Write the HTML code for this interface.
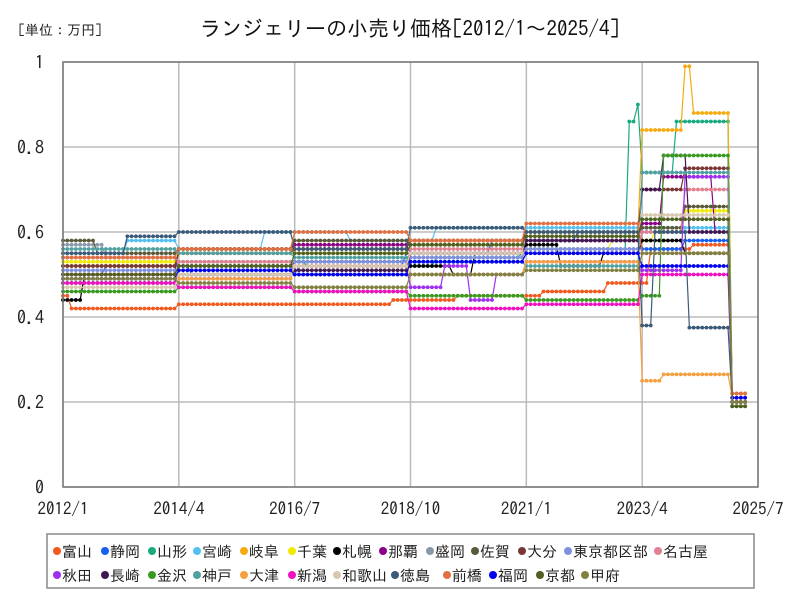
<!DOCTYPE html>
<html><head><meta charset="utf-8"><style>
body{margin:0;background:#fff;font-family:"IPAGothic","Noto Sans CJK JP",sans-serif}
#wrap{position:relative;width:800px;height:600px;overflow:hidden}
svg text{font-family:"IPAGothic","Noto Sans CJK JP",sans-serif}
</style></head><body>
<div id="wrap">
<svg id="svg" width="800" height="600" xmlns="http://www.w3.org/2000/svg">
<text x="18" y="35" font-size="14" fill="#222">[単位：万円]</text>
<text x="410" y="36" font-size="21" text-anchor="middle" fill="#111">ランジェリーの小売り価格[2012/1～2025/4]</text>
<g id="grid"></g><g id="series"></g>
<rect x="63" y="62" width="695" height="425" fill="none" stroke="#777" stroke-width="1.5"/>
<g id="axes"></g>
<rect x="47" y="534" width="707" height="54" fill="#fff" stroke="#888" stroke-width="1.5"/>
<g id="legend"></g>
</svg></div>
<script>
const names=["富山","静岡","山形","宮崎","岐阜","千葉","札幌","那覇","盛岡","佐賀","大分","東京都区部","名古屋","秋田","長崎","金沢","神戸","大津","新潟","和歌山","徳島","前橋","福岡","京都","甲府"];
const colors=["#f05a1e","#1560f0","#1aaa80","#55c0f0","#f5aa10","#f0ea00","#000000","#8b008b","#8899aa","#5a5a3a","#7a3535","#8090e0","#e08090","#a030f0","#401850","#3a9a20","#50a0a0","#f5a040","#f010c0","#d8c8b0","#3a5a78","#e07040","#0000ee","#506020","#808040"];
const yTicks=[0,0.2,0.4,0.6,0.8,1];
const yTickLabels=["0","0.2","0.4","0.6","0.8","1"];
const xTickMonths=[0,27,54,81,108,135,162];
const xTickLabels=["2012/1","2014/4","2016/7","2018/10","2021/1","2023/4","2025/7"];
// series as run-length [value, months], 2012/1..2025/4
const runs=[
[[0.45,2],[0.42,25],[0.43,50],[0.44,15],[0.45,20],[0.46,15],[0.48,10],[0.56,10],[0.57,9],[0.22,4]],
[[0.5,10],[0.52,20],[0.5,25],[0.52,25],[0.55,20],[0.58,20],[0.6,15],[0.56,10],[0.58,11],[0.21,4]],
[[0.52,27],[0.53,30],[0.52,30],[0.54,20],[0.55,25],[0.86,2],[0.9,1],[0.74,8],[0.86,13],[0.2,4]],
[[0.55,15],[0.58,12],[0.56,20],[0.6,20],[0.58,20],[0.61,30],[0.61,39],[0.2,4]],
[[0.52,27],[0.55,27],[0.57,27],[0.58,27],[0.6,27],[0.84,10],[0.99,2],[0.88,9],[0.21,4]],
[[0.53,27],[0.56,27],[0.55,27],[0.57,27],[0.56,20],[0.58,10],[0.6,7],[0.65,11],[0.21,4]],
[[0.44,5],[0.5,22],[0.52,27],[0.53,27],[0.52,10],[0.5,5],[0.55,12],[0.57,8],[0.52,10],[0.55,9],[0.58,10],[0.55,11],[0.2,4]],
[[0.5,27],[0.56,27],[0.57,27],[0.55,27],[0.58,27],[0.62,5],[0.73,12],[0.6,4],[0.2,4]],
[[0.57,10],[0.54,17],[0.52,27],[0.5,27],[0.54,27],[0.56,27],[0.6,21],[0.2,4]],
[[0.58,8],[0.55,19],[0.56,27],[0.58,27],[0.57,27],[0.6,27],[0.61,10],[0.66,11],[0.2,4]],
[[0.52,27],[0.55,27],[0.56,27],[0.58,27],[0.6,27],[0.7,10],[0.75,11],[0.2,4]],
[[0.51,27],[0.5,27],[0.53,27],[0.54,27],[0.56,27],[0.6,21],[0.21,4]],
[[0.54,27],[0.53,27],[0.52,27],[0.56,27],[0.55,27],[0.6,10],[0.7,11],[0.2,4]],
[[0.5,27],[0.49,27],[0.52,27],[0.47,8],[0.52,6],[0.44,6],[0.5,7],[0.53,27],[0.51,10],[0.73,11],[0.2,4]],
[[0.48,27],[0.5,27],[0.51,27],[0.55,27],[0.58,27],[0.7,5],[0.78,6],[0.6,10],[0.19,4]],
[[0.46,27],[0.47,27],[0.46,27],[0.45,27],[0.44,27],[0.45,5],[0.78,16],[0.19,4]],
[[0.56,27],[0.55,27],[0.54,27],[0.53,27],[0.52,27],[0.74,21],[0.2,4]],
[[0.5,27],[0.49,27],[0.52,27],[0.5,27],[0.53,27],[0.25,5],[0.265,16],[0.21,4]],
[[0.48,27],[0.47,27],[0.46,27],[0.42,27],[0.43,27],[0.5,21],[0.2,4]],
[[0.47,27],[0.5,27],[0.52,27],[0.55,27],[0.6,27],[0.64,21],[0.21,4]],
[[0.55,15],[0.59,12],[0.6,27],[0.56,27],[0.61,27],[0.6,27],[0.38,3],[0.6,8],[0.375,10],[0.2,4]],
[[0.54,27],[0.56,27],[0.6,27],[0.58,27],[0.62,27],[0.55,21],[0.22,4]],
[[0.49,27],[0.51,27],[0.5,27],[0.53,27],[0.55,27],[0.52,21],[0.21,4]],
[[0.5,27],[0.52,27],[0.55,27],[0.57,27],[0.59,27],[0.63,21],[0.19,4]],
[[0.49,27],[0.48,27],[0.47,27],[0.5,27],[0.51,27],[0.55,21],[0.2,4]]
];
const NS="http://www.w3.org/2000/svg";
const L=63,R=758,T=62,B=487;
const xs=m=>L+m*(R-L)/162;
const ys=v=>B-v*(B-T);
function mk(tag,attrs,parent){const e=document.createElementNS(NS,tag);for(const k in attrs)e.setAttribute(k,attrs[k]);parent.appendChild(e);return e;}
const grid=document.getElementById('grid'),axes=document.getElementById('axes'),ser=document.getElementById('series'),leg=document.getElementById('legend');
yTicks.forEach((v,i)=>{
 const g=mk('line',{x1:L,x2:R,y1:ys(v),y2:ys(v),stroke:'#bbb','stroke-width':1.5},grid);
 
 
 const t=mk('text',{x:44,y:ys(v)+7,'font-size':18,'text-anchor':'end',fill:'#222'},axes);
 t.textContent=yTickLabels[i];
 
 
});
xTickMonths.forEach((m,i)=>{
 const g=mk('line',{x1:xs(m),x2:xs(m),y1:T,y2:B,stroke:'#bbb','stroke-width':1.5},grid);
 
 
 const t=mk('text',{x:xs(m),y:515,'font-size':17,'text-anchor':'middle',fill:'#222'},axes);
 t.textContent=xTickLabels[i];
 
 
});
runs.forEach((r,si)=>{
 const vals=[];r.forEach(([v,n])=>{for(let k=0;k<n;k++)vals.push(v);});
 const g=mk('g',{},ser);
 
 
 const pts=vals.map((v,i)=>xs(i).toFixed(1)+','+ys(v).toFixed(1)).join(' ');
 mk('polyline',{points:pts,fill:'none',stroke:colors[si],'stroke-width':1.2},g);
 vals.forEach((v,i)=>{const c=mk('circle',{cx:xs(i),cy:ys(v),r:1.9,fill:colors[si]},g);
  
  });
});
const row1=[57,105,152,197,244,292,337,383,430,475,522,568,658];
const row2=[57,105,152,197,244,292,337,395,447,493,540,585];
names.forEach((n,i)=>{
 const r=i<13?0:1;const x=r?row2[i-13]:row1[i];const y=r?575:551;
 const g=mk('g',{},leg);
 
 
 mk('circle',{cx:x,cy:y,r:4,fill:colors[i]},g);
 const t=mk('text',{x:x+5,y:y+6,'font-size':15,fill:'#222'},g);t.textContent=n;
});
</script></body></html>
